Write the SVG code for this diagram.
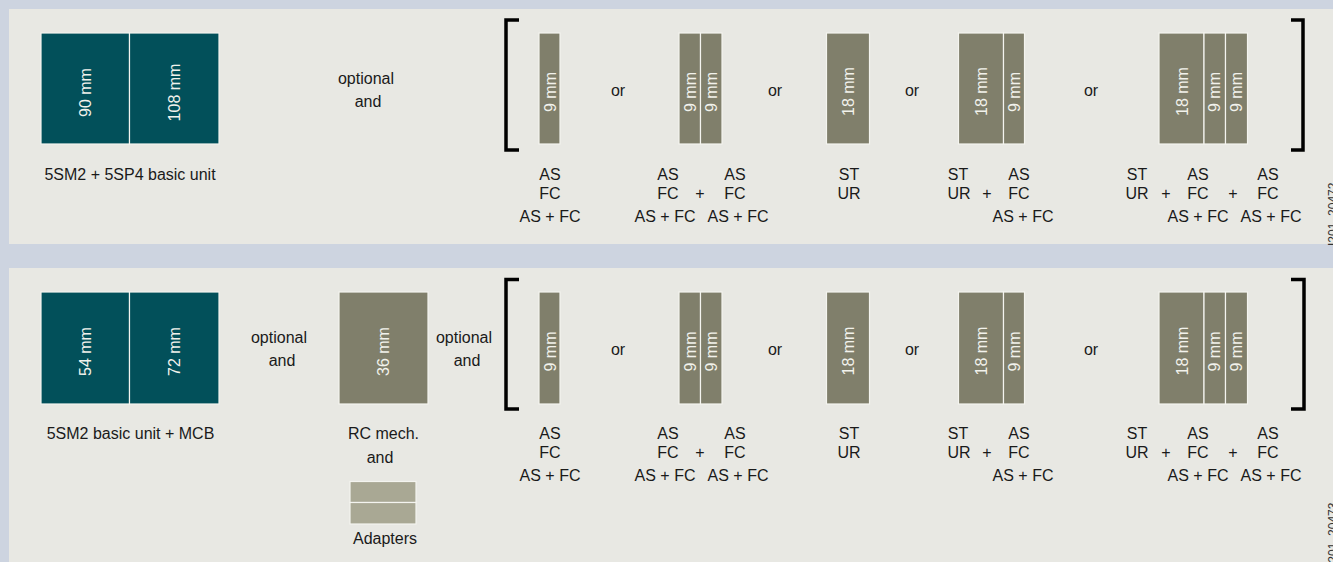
<svg xmlns="http://www.w3.org/2000/svg" width="1333" height="562" viewBox="0 0 1333 562">
<style>
text{font-family:"Liberation Sans",Arial,sans-serif;font-size:16px;fill:#1a1a1a;text-anchor:middle}
.dim{fill:#f2f2ec}
.teal{fill:#02505A;stroke:#f4f4ef;stroke-width:1.2}
.grey{fill:#807F6B;stroke:#f4f4ef;stroke-width:1.2}
.adp{fill:#A9A894;stroke:#f4f4ef;stroke-width:1.2}
.br{fill:none;stroke:#000;stroke-width:3.5}
.id{font-size:12px;text-anchor:start;fill:#333}
</style>
<rect x="0" y="0" width="1333" height="562" fill="#CDD4E0"/>
<rect x="9" y="9" width="1324" height="235" fill="#E8E8E3"/>
<rect x="9" y="268" width="1324" height="294" fill="#E8E8E3"/>

<g id="connectors">
<path class="br" d="M519,20 H506 V150 H519"/>
<path class="br" d="M1291,20 H1303 V150 H1291"/>
<path class="br" d="M519,279.5 H506 V409 H519"/>
<path class="br" d="M1291,279.5 H1304 V409 H1291"/>
</g>

<!-- Top panel -->
<g id="top-basic">
<rect class="teal" x="41" y="33" width="88.5" height="111"/>
<rect class="teal" x="129.5" y="33" width="89.5" height="111"/>
<text class="dim" transform="translate(85,92.5) rotate(-90)" y="5.7">90 mm</text>
<text class="dim" transform="translate(174,92.5) rotate(-90)" y="5.7">108 mm</text>
<text x="130" y="180">5SM2 + 5SP4 basic unit</text>
</g>
<g id="top-optional">
<text x="366" y="84">optional</text>
<text x="368" y="107">and</text>
</g>
<g id="top-opt1">
<rect class="grey" x="539" y="33" width="21" height="111"/>
<text class="dim" transform="translate(550,92) rotate(-90)" y="5.7">9 mm</text>
<text x="550" y="180">AS</text><text x="550" y="199">FC</text><text x="550" y="222">AS + FC</text>
</g>
<text x="618" y="96">or</text>
<g id="top-opt2">
<rect class="grey" x="679" y="33" width="21.5" height="111"/>
<rect class="grey" x="700.5" y="33" width="21.5" height="111"/>
<text class="dim" transform="translate(690,92) rotate(-90)" y="5.7">9 mm</text>
<text class="dim" transform="translate(711.5,92) rotate(-90)" y="5.7">9 mm</text>
<text x="668" y="180">AS</text><text x="735" y="180">AS</text>
<text x="668" y="199">FC</text><text x="700" y="199">+</text><text x="735" y="199">FC</text>
<text x="665" y="222">AS + FC</text><text x="738" y="222">AS + FC</text>
</g>
<text x="775" y="96">or</text>
<g id="top-opt3">
<rect class="grey" x="826.5" y="33" width="43" height="111"/>
<text class="dim" transform="translate(848,91.5) rotate(-90)" y="5.7">18 mm</text>
<text x="849" y="180">ST</text><text x="849" y="199">UR</text>
</g>
<text x="912" y="96">or</text>
<g id="top-opt4">
<rect class="grey" x="958.5" y="33" width="45" height="111"/>
<rect class="grey" x="1003.5" y="33" width="21" height="111"/>
<text class="dim" transform="translate(981,91.5) rotate(-90)" y="5.7">18 mm</text>
<text class="dim" transform="translate(1014,92) rotate(-90)" y="5.7">9 mm</text>
<text x="958" y="180">ST</text><text x="1019" y="180">AS</text>
<text x="959" y="199">UR</text><text x="987" y="199">+</text><text x="1019" y="199">FC</text>
<text x="1023" y="222">AS + FC</text>
</g>
<text x="1091" y="96">or</text>
<g id="top-opt5">
<rect class="grey" x="1159" y="33" width="45" height="111"/>
<rect class="grey" x="1204" y="33" width="21.5" height="111"/>
<rect class="grey" x="1225.5" y="33" width="22" height="111"/>
<text class="dim" transform="translate(1182,91.5) rotate(-90)" y="5.7">18 mm</text>
<text class="dim" transform="translate(1214.5,92) rotate(-90)" y="5.7">9 mm</text>
<text class="dim" transform="translate(1236.5,92) rotate(-90)" y="5.7">9 mm</text>
<text x="1137" y="180">ST</text><text x="1198" y="180">AS</text><text x="1268" y="180">AS</text>
<text x="1137" y="199">UR</text><text x="1166" y="199">+</text><text x="1198" y="199">FC</text><text x="1233" y="199">+</text><text x="1268" y="199">FC</text>
<text x="1198" y="222">AS + FC</text><text x="1271" y="222">AS + FC</text>
</g>
<text class="id" transform="translate(1337,246) rotate(-90)">I201_20472</text>

<!-- Bottom panel -->
<g id="bottom-basic">
<rect class="teal" x="41" y="292" width="88.5" height="112"/>
<rect class="teal" x="129.5" y="292" width="89.5" height="112"/>
<text class="dim" transform="translate(85,351.5) rotate(-90)" y="5.7">54 mm</text>
<text class="dim" transform="translate(174.5,351.5) rotate(-90)" y="5.7">72 mm</text>
<text x="130.5" y="439">5SM2 basic unit + MCB</text>
</g>
<g id="bottom-optional1">
<text x="279" y="343">optional</text>
<text x="282" y="366">and</text>
</g>
<g id="bottom-rc">
<rect class="grey" x="339" y="292" width="89" height="112"/>
<text class="dim" transform="translate(383.5,351.5) rotate(-90)" y="5.7">36 mm</text>
<text x="383.5" y="439">RC mech.</text>
<text x="380" y="463">and</text>
</g>
<g id="bottom-adapters">
<rect class="adp" x="350" y="481.5" width="66" height="21"/>
<rect class="adp" x="350" y="502.5" width="66" height="21.5"/>
<text x="385" y="544">Adapters</text>
</g>
<g id="bottom-optional2">
<text x="464" y="343">optional</text>
<text x="467" y="366">and</text>
</g>
<g id="bot-opt1">
<rect class="grey" x="539" y="292" width="21" height="112"/>
<text class="dim" transform="translate(550,351.5) rotate(-90)" y="5.7">9 mm</text>
<text x="550" y="439">AS</text><text x="550" y="458">FC</text><text x="550" y="481">AS + FC</text>
</g>
<text x="618" y="355">or</text>
<g id="bot-opt2">
<rect class="grey" x="679" y="292" width="21.5" height="112"/>
<rect class="grey" x="700.5" y="292" width="21.5" height="112"/>
<text class="dim" transform="translate(690,351.5) rotate(-90)" y="5.7">9 mm</text>
<text class="dim" transform="translate(711.5,351.5) rotate(-90)" y="5.7">9 mm</text>
<text x="668" y="439">AS</text><text x="735" y="439">AS</text>
<text x="668" y="458">FC</text><text x="700" y="458">+</text><text x="735" y="458">FC</text>
<text x="665" y="481">AS + FC</text><text x="738" y="481">AS + FC</text>
</g>
<text x="775" y="355">or</text>
<g id="bot-opt3">
<rect class="grey" x="826.5" y="292" width="43" height="112"/>
<text class="dim" transform="translate(848,351) rotate(-90)" y="5.7">18 mm</text>
<text x="849" y="439">ST</text><text x="849" y="458">UR</text>
</g>
<text x="912" y="355">or</text>
<g id="bot-opt4">
<rect class="grey" x="958.5" y="292" width="45" height="112"/>
<rect class="grey" x="1003.5" y="292" width="21" height="112"/>
<text class="dim" transform="translate(981,351) rotate(-90)" y="5.7">18 mm</text>
<text class="dim" transform="translate(1014,351.5) rotate(-90)" y="5.7">9 mm</text>
<text x="958" y="439">ST</text><text x="1019" y="439">AS</text>
<text x="959" y="458">UR</text><text x="987" y="458">+</text><text x="1019" y="458">FC</text>
<text x="1023" y="481">AS + FC</text>
</g>
<text x="1091" y="355">or</text>
<g id="bot-opt5">
<rect class="grey" x="1159" y="292" width="45" height="112"/>
<rect class="grey" x="1204" y="292" width="21.5" height="112"/>
<rect class="grey" x="1225.5" y="292" width="22" height="112"/>
<text class="dim" transform="translate(1182,351) rotate(-90)" y="5.7">18 mm</text>
<text class="dim" transform="translate(1214.5,351.5) rotate(-90)" y="5.7">9 mm</text>
<text class="dim" transform="translate(1236.5,351.5) rotate(-90)" y="5.7">9 mm</text>
<text x="1137" y="439">ST</text><text x="1198" y="439">AS</text><text x="1268" y="439">AS</text>
<text x="1137" y="458">UR</text><text x="1166" y="458">+</text><text x="1198" y="458">FC</text><text x="1233" y="458">+</text><text x="1268" y="458">FC</text>
<text x="1198" y="481">AS + FC</text><text x="1271" y="481">AS + FC</text>
</g>
<text class="id" transform="translate(1337,566) rotate(-90)">I201_20473</text>
</svg>
